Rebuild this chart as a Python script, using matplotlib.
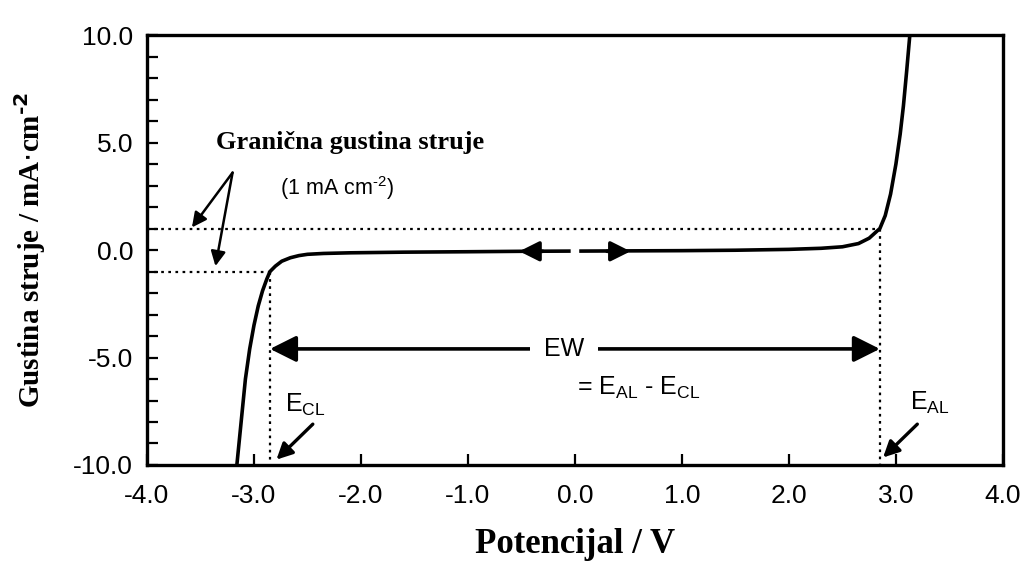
import matplotlib.pyplot as plt
from matplotlib.ticker import MultipleLocator

# curve (potential in V, current density in mA/cm2)
left_x = [-3.16, -3.12, -3.08, -3.04, -3.00, -2.96, -2.92, -2.88, -2.85, -2.80,
          -2.74, -2.66, -2.58, -2.50, -2.35, -2.10, -1.60, -1.00, -0.50, -0.04]
left_y = [-10.0, -8.0, -6.0, -4.6, -3.5, -2.6, -1.9, -1.35, -1.0, -0.75,
          -0.52, -0.36, -0.26, -0.20, -0.16, -0.13, -0.10, -0.08, -0.06, -0.05]
right_x = [0.04, 0.50, 1.00, 1.50, 2.00, 2.30, 2.50, 2.65, 2.75, 2.85,
           2.90, 2.95, 3.00, 3.04, 3.07, 3.10, 3.13]
right_y = [-0.05, -0.04, -0.03, -0.01, 0.03, 0.08, 0.15, 0.30, 0.55, 1.0,
           1.6, 2.6, 4.0, 5.4, 6.7, 8.3, 10.0]

e_cl = -2.85
e_al = 2.85
limit = 1.0

sans = "Liberation Sans"
serif = "Liberation Serif"
hy = "\u2010"  # short hyphen for the exponents

fig = plt.figure(figsize=(10.3, 5.65), dpi=100)
ax = fig.add_axes([0.1427, 0.177, 0.831, 0.761])

ax.plot(left_x, left_y, color="black", lw=2.6, solid_capstyle="butt")
ax.plot(right_x, right_y, color="black", lw=2.6, solid_capstyle="butt")

# direction arrows on the flat part
for x0, x1 in [(-0.3, -0.52), (0.3, 0.52)]:
    ax.annotate("", xy=(x1, -0.06), xytext=(x0, -0.06),
                arrowprops=dict(arrowstyle="-|>", color="black", lw=2.6,
                                mutation_scale=30, shrinkA=0, shrinkB=0))

# dotted guide lines
dot = dict(color="black", lw=1.6, ls=(0, (1.2, 2.0)))
ax.plot([-4, e_al], [limit, limit], **dot)
ax.plot([-4, e_cl], [-limit, -limit], **dot)
ax.plot([e_cl, e_cl], [-limit, -10], **dot)
ax.plot([e_al, e_al], [limit, -10], **dot)

# electrochemical window arrow
ax.annotate("", xy=(e_cl, -4.6), xytext=(e_al, -4.6),
            arrowprops=dict(arrowstyle="<|-|>", color="black", lw=2.6,
                            mutation_scale=40, shrinkA=0, shrinkB=0))
ax.text(-0.1, -4.6, "EW", ha="center", va="center", fontsize=18, family=sans,
        bbox=dict(facecolor="white", edgecolor="none", pad=10))
ax.text(0.6, -6.4, r"= E$_{\mathregular{AL}}$ - E$_{\mathregular{CL}}$",
        ha="center", va="center", fontsize=18, family=sans)

ax.text(-2.52, -7.2, r"E$_{\mathregular{CL}}$", ha="center", va="center",
        fontsize=18, family=sans)
ax.annotate("", xy=(-2.79, -9.75), xytext=(-2.45, -8.1),
            arrowprops=dict(arrowstyle="-|>", color="black", lw=2.4,
                            mutation_scale=24, shrinkA=0, shrinkB=0))
ax.text(3.32, -7.1, r"E$_{\mathregular{AL}}$", ha="center", va="center",
        fontsize=18, family=sans)
ax.annotate("", xy=(2.88, -9.65), xytext=(3.2, -8.1),
            arrowprops=dict(arrowstyle="-|>", color="black", lw=2.4,
                            mutation_scale=24, shrinkA=0, shrinkB=0))

# limiting current annotation
ax.text(-2.1, 5.0, "Granična gustina struje", ha="center", va="center",
        fontsize=19, fontweight="bold", family=serif)
ax.text(-2.22, 2.9, "(1 mA cm$^{\\mathregular{" + hy + "2}}$)",
        ha="center", va="center", fontsize=15.5, family=sans)
for tx, ty in [(-3.58, 1.05), (-3.36, -0.75)]:
    ax.annotate("", xy=(tx, ty), xytext=(-3.2, 3.6),
                arrowprops=dict(arrowstyle="-|>", color="black", lw=1.8,
                                mutation_scale=22, shrinkA=0, shrinkB=0))

ax.set_xlim(-4, 4)
ax.set_ylim(-10, 10)
ax.xaxis.set_major_locator(MultipleLocator(1.0))
ax.yaxis.set_major_locator(MultipleLocator(5.0))
ax.yaxis.set_minor_locator(MultipleLocator(1.0))
ax.xaxis.set_major_formatter(plt.FormatStrFormatter("%.1f"))
ax.yaxis.set_major_formatter(plt.FormatStrFormatter("%.1f"))
ax.tick_params(axis="both", which="both", direction="in", width=1.6,
               labelsize=19, length=8)
ax.tick_params(axis="x", pad=14)
ax.tick_params(axis="y", pad=10)
for lab in ax.get_xticklabels() + ax.get_yticklabels():
    lab.set_family(sans)
for sp in ax.spines.values():
    sp.set_linewidth(2.4)

ax.set_xlabel("Potencijal / V", fontsize=25, fontweight="bold", family=serif,
              labelpad=14)
ax.set_ylabel("Gustina struje / mA$\\cdot$cm$^{\\mathbf{" + hy + "2}}$",
              fontsize=21, fontweight="bold", family=serif, labelpad=18)

fig.savefig("out.png", dpi=100)
